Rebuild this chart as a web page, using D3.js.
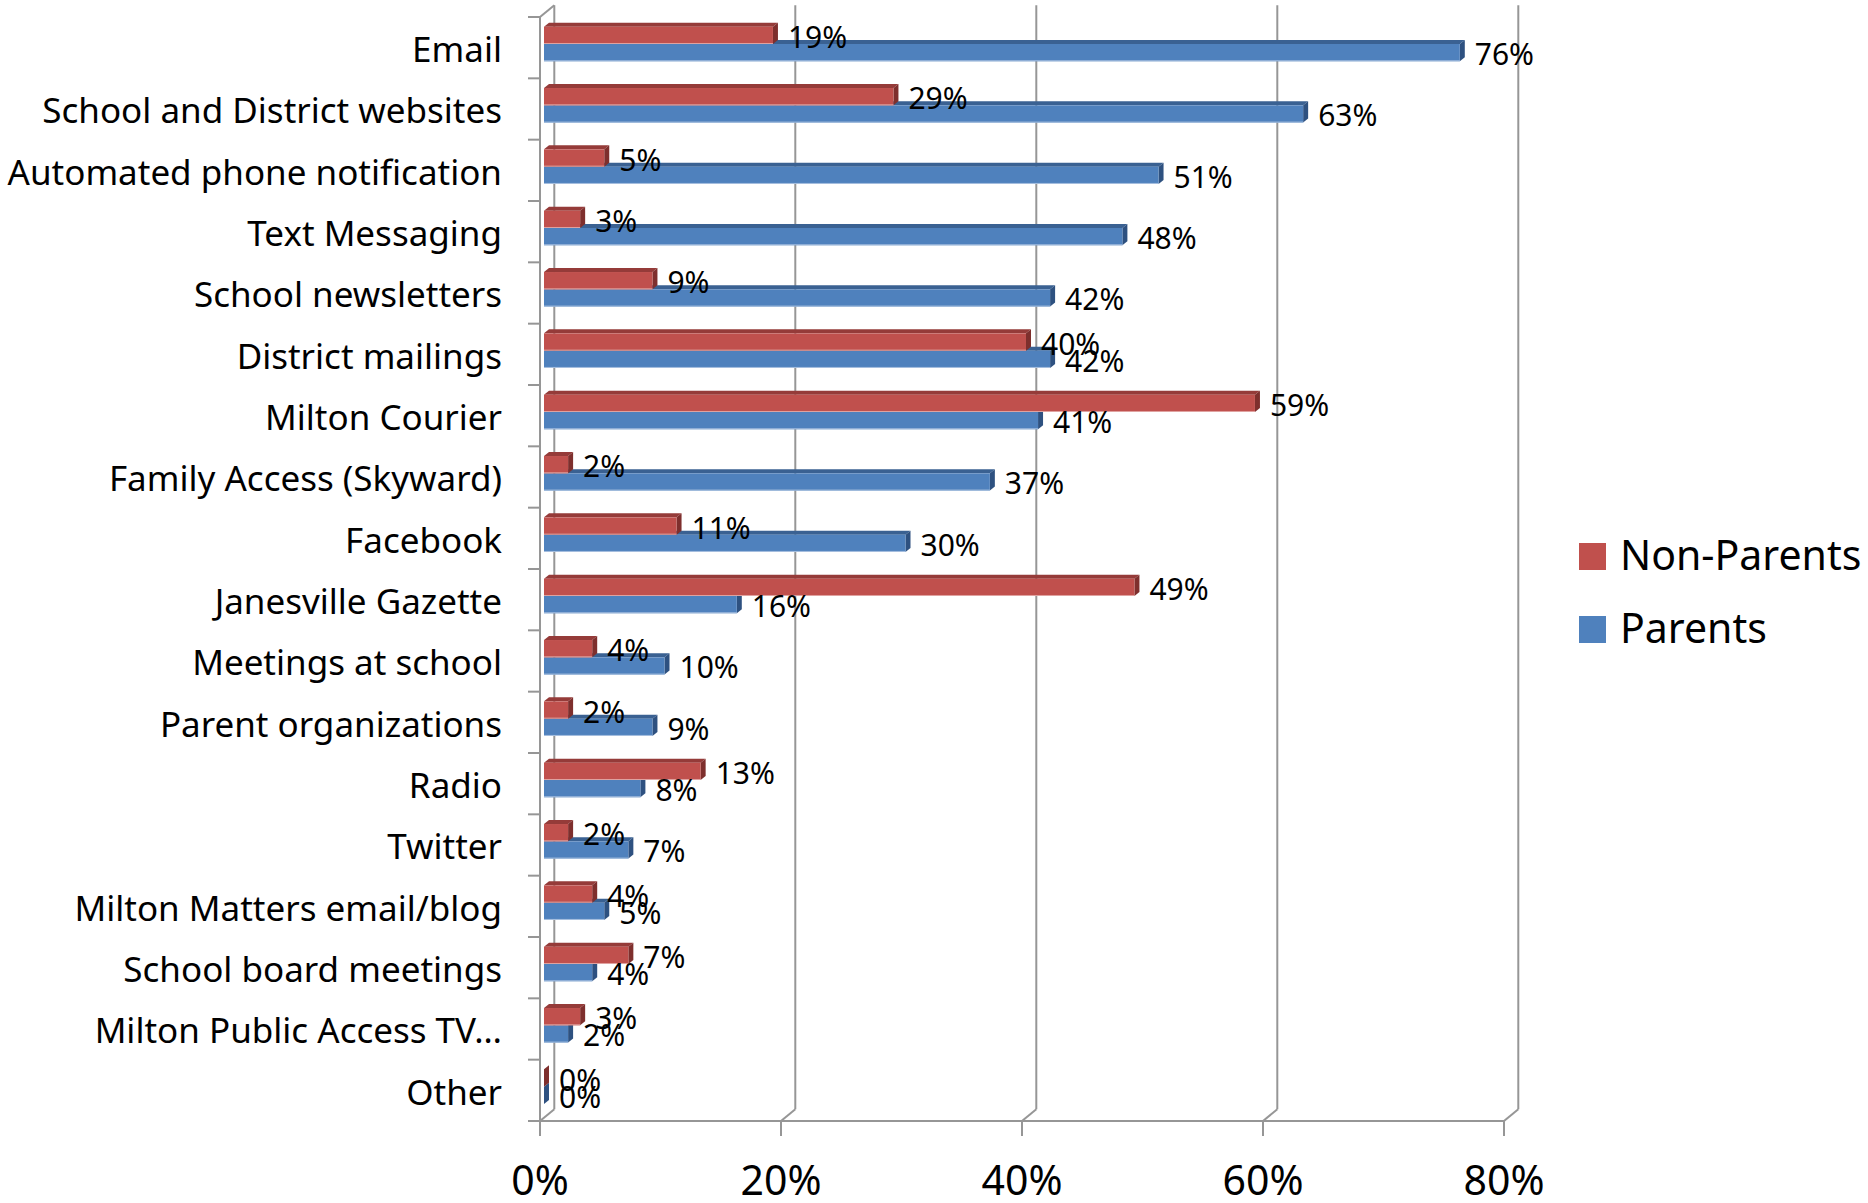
<!DOCTYPE html>
<html>
<head>
<meta charset="utf-8">
<script src="https://cdn.jsdelivr.net/npm/d3@7"></script>
<style>
  html, body { margin: 0; padding: 0; background: #fff; }
  svg { display: block; font-family: "Noto Sans", "Open Sans", sans-serif; }
</style>
</head>
<body>
<svg id="chart" width="1868" height="1203"></svg>
<script>
// survey answers (labels are rounded %)
const categories = [
  "Email", "School and District websites", "Automated phone notification",
  "Text Messaging", "School newsletters", "District mailings", "Milton Courier",
  "Family Access (Skyward)", "Facebook", "Janesville Gazette", "Meetings at school",
  "Parent organizations", "Radio", "Twitter", "Milton Matters email/blog",
  "School board meetings", "Milton Public Access TV\u2026", "Other"
];
const nonParents = [19, 29, 5, 3, 9, 40, 59, 2, 11, 49, 4, 2, 13, 2, 4, 7, 3, 0];
const parents = [76, 63, 51, 48, 42, 42, 41, 37, 30, 16, 10, 9, 8, 7, 5, 4, 2, 0];
const seriesNames = ["Non-Parents", "Parents"];
const xTicks = [0, 20, 40, 60, 80];

const svg = d3.select("#chart");

// plot box (front plane) + oblique depth of the walls
const plotLeft = 540, plotRight = 1504, plotTop = 17, plotBottom = 1121;
const depth = { dx: 14.3, dy: -11.7 };
const barDepth = { dx: 5, dy: -4 };
const barShift = 4; // bars sit a bit behind the front plane

const x = d3.scaleLinear().domain([0, 80]).range([plotLeft, plotRight]);
const y = d3.scaleBand().domain(categories).range([plotTop, plotBottom]);
const ySub = d3.scaleBand().domain(seriesNames)
  .range([y.bandwidth() * 0.158, y.bandwidth() * 0.722]);

const colors = {
  "Non-Parents": { front: "#C0504D", top: "#953B39", side: "#7E2F2D", edge: "#E0A3A1" },
  "Parents":     { front: "#4F81BD", top: "#3A6192", side: "#2E5180", edge: "#A9C1E0" }
};
const gridColor = "#969696";

// ---- walls / gridlines ----
const walls = svg.append("g").attr("stroke", gridColor).attr("stroke-width", 2).attr("fill", "none");

// back wall gridlines (0% is the back edge of the side wall)
xTicks.forEach(t => {
  const fx = x(t), bx = x(t) + depth.dx;
  walls.append("line")
    .attr("x1", bx).attr("x2", bx)
    .attr("y1", plotTop + depth.dy).attr("y2", plotBottom + depth.dy);
  walls.append("line")
    .attr("x1", fx).attr("y1", plotBottom)
    .attr("x2", bx).attr("y2", plotBottom + depth.dy);
});
// side wall front edge + top diagonal
walls.append("line").attr("x1", plotLeft).attr("x2", plotLeft).attr("y1", plotTop).attr("y2", plotBottom);
walls.append("line").attr("x1", plotLeft).attr("y1", plotTop)
  .attr("x2", plotLeft + depth.dx).attr("y2", plotTop + depth.dy);
// floor front edge
walls.append("line").attr("x1", plotLeft).attr("x2", plotRight).attr("y1", plotBottom).attr("y2", plotBottom);

// category ticks on side wall
const bounds = categories.map(c => y(c)).concat([plotBottom]);
walls.selectAll(".ytick").data(bounds).enter().append("line")
  .attr("x1", plotLeft - 12).attr("x2", plotLeft)
  .attr("y1", d => d).attr("y2", d => d);
// value ticks under floor
walls.selectAll(".xtick").data(xTicks).enter().append("line")
  .attr("x1", d => x(d)).attr("x2", d => x(d))
  .attr("y1", plotBottom).attr("y2", plotBottom + 15);

// x tick labels
svg.append("g").selectAll("text").data(xTicks).enter().append("text")
  .attr("x", d => x(d))
  .attr("y", 1195)
  .attr("text-anchor", "middle")
  .attr("font-size", 41)
  .attr("fill", "#000")
  .text(d => d + "%");

// category labels
svg.append("g").selectAll("text").data(categories).enter().append("text")
  .attr("x", 502)
  .attr("y", d => y(d) + y.bandwidth() / 2 + 2)
  .attr("dy", "0.35em")
  .attr("text-anchor", "end")
  .attr("font-size", 35)
  .attr("fill", "#000")
  .text(d => d);

// ---- 3D bars ----
const rows = [];
categories.forEach((c, i) => {
  rows.push({ cat: c, series: "Parents", value: parents[i] });
  rows.push({ cat: c, series: "Non-Parents", value: nonParents[i] });
});

const bars = svg.append("g").selectAll("g").data(rows).enter().append("g");

function geo(d) {
  const x0 = x(0) + barShift, x1 = x(d.value) + barShift;
  const y0 = y(d.cat) + ySub(d.series), y1 = y0 + ySub.bandwidth();
  return { x0, x1, y0, y1 };
}
bars.append("polygon") // top face
  .attr("fill", d => colors[d.series].top)
  .attr("points", d => {
    const g = geo(d);
    return [[g.x0, g.y0], [g.x0 + barDepth.dx, g.y0 + barDepth.dy],
            [g.x1 + barDepth.dx, g.y0 + barDepth.dy], [g.x1, g.y0]].join(" ");
  });
bars.append("polygon") // end face
  .attr("fill", d => colors[d.series].side)
  .attr("points", d => {
    const g = geo(d);
    return [[g.x1, g.y0], [g.x1 + barDepth.dx, g.y0 + barDepth.dy],
            [g.x1 + barDepth.dx, g.y1 + barDepth.dy], [g.x1, g.y1]].join(" ");
  });
bars.append("rect") // front face
  .attr("x", d => geo(d).x0)
  .attr("y", d => geo(d).y0)
  .attr("width", d => geo(d).x1 - geo(d).x0)
  .attr("height", ySub.bandwidth())
  .attr("fill", d => colors[d.series].front);
bars.append("line") // soft lower edge
  .attr("x1", d => geo(d).x0).attr("x2", d => geo(d).x1)
  .attr("y1", d => geo(d).y1 - 0.5).attr("y2", d => geo(d).y1 - 0.5)
  .attr("stroke", d => colors[d.series].edge).attr("stroke-width", 1);

// data labels
svg.append("g").selectAll("text").data(rows).enter().append("text")
  .attr("x", d => x(d.value) + barShift + 15)
  .attr("y", d => y(d.cat) + ySub(d.series) + ySub.bandwidth() / 2 + 2)
  .attr("dy", "0.35em")
  .attr("font-size", 30)
  .attr("fill", "#000")
  .text(d => d.value + "%");

// ---- legend ----
const legend = svg.append("g").selectAll("g").data(seriesNames).enter().append("g")
  .attr("transform", (d, i) => `translate(1579,${543 + i * 73})`);
legend.append("rect")
  .attr("width", 27).attr("height", 27)
  .attr("fill", d => colors[d].front);
legend.append("text")
  .attr("x", 41).attr("y", 27)
  .attr("font-size", 41)
  .attr("fill", "#000")
  .text(d => d);
</script>
</body>
</html>
